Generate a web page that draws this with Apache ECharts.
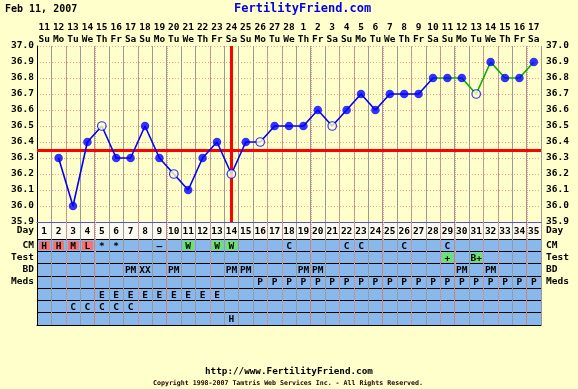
<!DOCTYPE html>
<html><head><meta charset="utf-8">
<script src="https://cdn.jsdelivr.net/npm/echarts@6/dist/echarts.min.js"></script>
<style>html,body{margin:0;padding:0;background:#FFFFCC;}#c{width:578px;height:389px;}</style>
</head><body><div id="c"></div>
<script>
// ---- data ----
const cycleDays = ['1','2','3','4','5','6','7','8','9','10','11','12','13','14','15','16','17','18','19','20','21','22','23','24','25','26','27','28','29','30','31','32','33','34','35'];
const dateNums = ['11','12','13','14','15','16','17','18','19','20','21','22','23','24','25','26','27','28','1','2','3','4','5','6','7','8','9','10','11','12','13','14','15','16','17'];
const weekDays = ['Su','Mo','Tu','We','Th','Fr','Sa','Su','Mo','Tu','We','Th','Fr','Sa','Su','Mo','Tu','We','Th','Fr','Sa','Su','Mo','Tu','We','Th','Fr','Sa','Su','Mo','Tu','We','Th','Fr','Sa'];
const temps = [null,36.3,36.0,36.4,36.5,36.3,36.3,36.5,36.3,36.2,36.1,36.3,36.4,36.2,36.4,36.4,36.5,36.5,36.5,36.6,36.5,36.6,36.7,36.6,36.7,36.7,36.7,36.8,36.8,36.8,36.7,36.9,36.8,36.8,36.9];
const openDays = [5,10,14,16,21,31];
const greenFromDay = 28;
const coverline = 36.35;
const ovulationDay = 14;
const rowNames = ['CM','Test','BD','Meds','\u200b',' ','  '];
// [day, text, highlight] highlight: 'r' red, 'g' green
const cmRow = [[1,'H','r'],[2,'H','r'],[3,'M','r'],[4,'L','r'],[5,'*'],[6,'*'],[9,'\u2013'],[11,'W','g'],[13,'W','g'],[14,'W','g'],[18,'C'],[22,'C'],[23,'C'],[26,'C'],[29,'C']];
const testRow = [[29,'+','g'],[31,'B+','g']];
const bdRow = [[7,'PM'],[8,'XX'],[10,'PM'],[14,'PM'],[15,'PM'],[19,'PM'],[20,'PM'],[30,'PM'],[32,'PM']];
const medsRow = [[16,'P'],[17,'P'],[18,'P'],[19,'P'],[20,'P'],[21,'P'],[22,'P'],[23,'P'],[24,'P'],[25,'P'],[26,'P'],[27,'P'],[28,'P'],[29,'P'],[30,'P'],[31,'P'],[32,'P'],[33,'P'],[34,'P'],[35,'P']];
const extraRow1 = [[5,'E'],[6,'E'],[7,'E'],[8,'E'],[9,'E'],[10,'E'],[11,'E'],[12,'E'],[13,'E']];
const extraRow2 = [[3,'C'],[4,'C'],[5,'C'],[6,'C'],[7,'C']];
const extraRow3 = [[14,'H']];
const pinkBounds = [2,4,7,9,12,16,17,19,21,22,24,26,28,29,31,32,34];

// ---- styles ----
const FONT = '"DejaVu Sans Mono", monospace';
const FS = 9.5;
const BG = '#FFFFCC';
const BLUE = '#0000FF';
const HL = {r:'#F87272', g:'#66E866'};

const blueData = temps.map((v,i)=> (i+1) <= greenFromDay ? v : null);
const greenData = temps.map((v,i)=> (i+1) >= greenFromDay ? v : null);
const markerData = temps.map((v,i)=> {
  if (v === null) return null;
  const open = openDays.indexOf(i+1) >= 0;
  return {value:[i, v], itemStyle: open ? {color:BG, borderColor:BLUE, borderWidth:1.2} : {color:BLUE, borderWidth:0}};
}).filter(d=>d);

const rows = [cmRow,testRow,bdRow,medsRow,extraRow1,extraRow2,extraRow3];
const cells = [];
rows.forEach((row,r)=>row.forEach(c=>cells.push({value:[c[0]-1, r], t:c[1], bg:c[2]?HL[c[2]]:null})));

function pinkLines(gridIdx){
  return {
    type:'custom', xAxisIndex: gridIdx===0?0:(gridIdx===1?2:3), yAxisIndex: gridIdx===0?0:(gridIdx===1?2:4),
    silent:true, z:1,
    data: pinkBounds.map(k=>[k-1, gridIdx===0?36.5:0]),
    renderItem(params, api){
      const p = api.coord([api.value(0), api.value(1)]);
      const s = api.size([1,1]);
      const cs = params.coordSys;
      const x = Math.round(p[0] + s[0]/2) + 0.5;
      return {type:'line', shape:{x1:x, y1:cs.y, x2:x, y2:cs.y+cs.height}, style:{stroke:'#FF8C8C', lineWidth:1, lineDash:[1,1]}};
    }
  };
}

const lbl = {fontFamily:FONT, fontWeight:'bold', fontSize:FS, color:'#000'};

const option = {
  animation:false,
  backgroundColor:BG,
  title:[
    {text:'Feb 11, 2007', left:5, top:4, padding:0, textStyle:{fontFamily:FONT, fontWeight:'bold', fontSize:10, color:'#000'}},
    {text:'FertilityFriend.com', left:234, top:3, padding:0, textStyle:{fontFamily:FONT, fontWeight:'bold', fontSize:12, color:'#0000EE'}},
    {text:'http://www.FertilityFriend.com', left:205, top:367, padding:0, textStyle:{fontFamily:FONT, fontWeight:'bold', fontSize:9.3, color:'#000'}},
    {text:'Copyright 1998-2007 Tamtris Web Services Inc. - All Rights Reserved.', left:153, top:380, padding:0, textStyle:{fontFamily:FONT, fontWeight:'bold', fontSize:6.6, color:'#200000'}}
  ],
  grid:[
    {left:37, right:37, top:46, height:176},
    {left:37, right:37, top:222, height:17, show:true, backgroundColor:'#FAFAEE', borderWidth:0},
    {left:37, right:37, top:239, height:86, show:true, backgroundColor:'#88B8EC', borderWidth:0}
  ],
  xAxis:[
    {gridIndex:0, type:'category', data:cycleDays, position:'bottom', axisLabel:{show:false}, axisTick:{show:false},
     axisLine:{show:true, lineStyle:{color:'#5555CC', width:1}}, splitLine:{show:true, interval:0, lineStyle:{color:'#999999', width:1}}},
    {gridIndex:0, type:'category', data:cycleDays, position:'top', axisTick:{show:false}, axisLine:{show:false},
     axisLabel:{interval:0, margin:0, lineHeight:12, ...lbl, formatter:(v,i)=>dateNums[i]+'\n'+weekDays[i]}},
    {gridIndex:1, type:'category', data:cycleDays, axisLabel:{show:false}, axisTick:{show:false}, axisLine:{show:false},
     splitLine:{show:true, interval:0, lineStyle:{color:'#999999', width:1}}},
    {gridIndex:2, type:'category', data:cycleDays, axisLabel:{show:false}, axisTick:{show:false},
     axisLine:{show:true, lineStyle:{color:'#000', width:1}}, splitLine:{show:true, interval:0, lineStyle:{color:'#999999', width:1}}}
  ],
  yAxis:[
    {gridIndex:0, type:'value', min:35.9, max:37.0, interval:0.1, position:'left',
     axisLine:{show:true, lineStyle:{color:'#000', width:1}}, axisTick:{show:false},
     axisLabel:{...lbl, margin:3, formatter:v=>v.toFixed(1)},
     splitLine:{show:true, lineStyle:{color:'#FF9A9A', type:[1,2], width:1}}},
    {gridIndex:0, type:'value', min:35.9, max:37.0, interval:0.1, position:'right',
     axisLine:{show:false}, axisTick:{show:false}, splitLine:{show:false},
     axisLabel:{...lbl, margin:5, formatter:v=>v.toFixed(1)}},
    {gridIndex:1, type:'category', data:['Day'], position:'left', axisTick:{show:false},
     axisLine:{show:true, lineStyle:{color:'#000'}}, axisLabel:{...lbl, margin:3, interval:0}},
    {gridIndex:1, type:'category', data:['Day'], position:'right', axisTick:{show:false},
     axisLine:{show:false}, axisLabel:{...lbl, margin:5, interval:0}},
    {gridIndex:2, type:'category', data:rowNames, inverse:true, position:'left', axisTick:{show:false},
     axisLine:{show:true, lineStyle:{color:'#000'}}, axisLabel:{...lbl, margin:3, interval:0},
     splitLine:{show:true, interval:0, lineStyle:{color:'#000', width:1}}},
    {gridIndex:2, type:'category', data:rowNames, inverse:true, position:'right', axisTick:{show:false},
     axisLine:{show:false}, axisLabel:{...lbl, margin:5, interval:0}}
  ],
  series:[
    pinkLines(0), pinkLines(1), pinkLines(2),
    {type:'line', xAxisIndex:0, yAxisIndex:0, data:blueData, showSymbol:false, connectNulls:false, z:3,
     lineStyle:{color:BLUE, width:1.6},
     markLine:{silent:true, symbol:'none', label:{show:false}, z:2,
       lineStyle:{color:'#FF0000', width:3, type:'solid'},
       data:[{yAxis:coverline}, {xAxis:ovulationDay-1}]}},
    {type:'line', xAxisIndex:0, yAxisIndex:0, data:greenData, showSymbol:false, z:3,
     lineStyle:{color:'#00B400', width:1.6}},
    {type:'scatter', xAxisIndex:0, yAxisIndex:0, data:markerData, symbol:'circle', symbolSize:8.5, z:4},
    {type:'custom', xAxisIndex:2, yAxisIndex:2, silent:true, z:5,
     data:cycleDays.map((d,i)=>[i,0]),
     renderItem(params, api){
       const p = api.coord([api.value(0), 0]);
       return {type:'text', style:{text:cycleDays[params.dataIndex], x:p[0], y:p[1]+1, align:'center', verticalAlign:'middle', textAlign:'center', textVerticalAlign:'middle', font:'bold '+FS+'px '+FONT, fill:'#000'}};
     }},
    {type:'custom', xAxisIndex:3, yAxisIndex:4, silent:true, z:5,
     data:cells.map(c=>c.value),
     renderItem(params, api){
       const c = cells[params.dataIndex];
       const p = api.coord([api.value(0), api.value(1)]);
       const s = api.size([1,1]);
       const ch = [];
       if (c.bg) ch.push({type:'rect', shape:{x:Math.round(p[0]-s[0]/2)+2, y:Math.round(p[1]-s[1]/2)+2, width:Math.round(s[0])-3, height:Math.round(s[1])-3}, style:{fill:c.bg}});
       ch.push({type:'text', style:{text:c.t, x:p[0], y:p[1]+1, align:'center', verticalAlign:'middle', textAlign:'center', textVerticalAlign:'middle', font:'bold '+FS+'px '+FONT, fill:'#000'}});
       return {type:'group', children:ch};
     }}
  ]
};
const chart = echarts.init(document.getElementById('c'), null, {renderer:'canvas'});
chart.setOption(option);
</script>
</body></html>
